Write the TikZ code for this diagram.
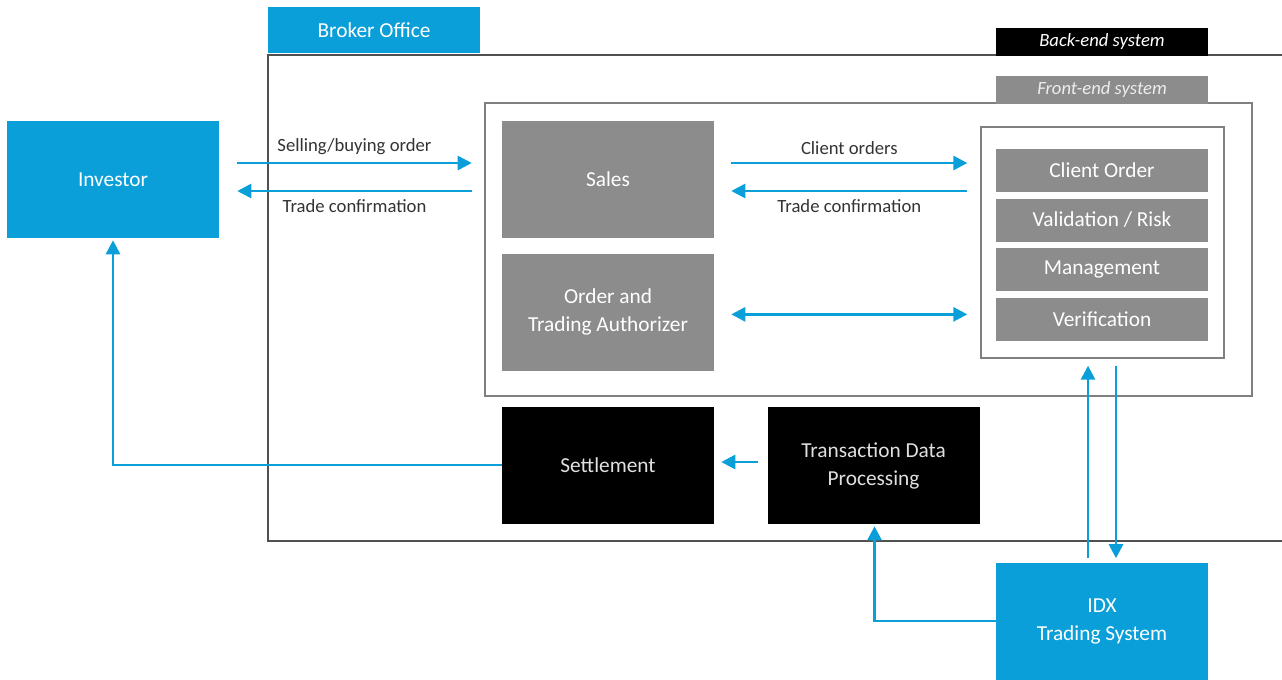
\documentclass[tikz,border=0pt]{standalone}
\usepackage{fontspec}
\setmainfont{Carlito}
\usetikzlibrary{arrows.meta,positioning}
\definecolor{idxblue}{HTML}{0A9FD8}
\definecolor{boxgray}{HTML}{8C8C8C}
\definecolor{linegray}{HTML}{505050}
\definecolor{textgray}{HTML}{333333}
\tikzset{
    block/.style={minimum width=159pt, minimum height=87.75pt, inner sep=0pt,
        align=center, font=\fontsize{16}{21}\selectfont},
    blueblock/.style={block, fill=idxblue, text=white},
    grayblock/.style={block, fill=boxgray, text=white},
    blackblock/.style={block, fill=black, text=white!88!black},
    subblock/.style={grayblock, minimum height=32.25pt},
    tag/.style={minimum width=159pt, minimum height=21pt, inner sep=0pt,
        font=\fontsize{14}{15}\selectfont\itshape},
    flow/.style={draw=idxblue, line width=2pt},
    lbl/.style={text=textgray, font=\fontsize{14}{15}\selectfont, inner sep=5.5pt}
}

\begin{document}
\begin{tikzpicture}[x=0.75pt,y=-0.75pt,>={Triangle[length=10.5pt,width=10.5pt]}]
    \useasboundingbox (0,0) rectangle (1282,679);

    % broker office frame
    \draw[linegray, line width=1.5pt] (1282,55) -- (268,55) -- (268,541) -- (1282,541);
    \node[blueblock, minimum height=34.5pt] (broker) at (374,30) {Broker Office};
    \node[tag, fill=black, text=white] (backend) at (1102,42) {Back-end system};

    % front-end system
    \draw[gray, line width=1pt] (485,103) rectangle (1252,396);
    \node[tag, fill=boxgray, text=white!93!black] (frontend) at (1102,89.5) {Front-end system};

    \node[blueblock] (investor) at (113,179.5) {Investor};
    \node[grayblock] (sales) at (608,179.5) {Sales};
    \node[grayblock] (auth) [below=11.5pt of sales] {Order and\\Trading Authorizer};

    \node[draw=gray, line width=1pt, minimum width=182.25pt, minimum height=173.25pt,
        inner sep=0pt] (engine) at (1102.5,242.5) {};
    \node[subblock] (order) at (1102,170.5) {Client Order};
    \node[subblock] (risk) [below=4.5pt of order] {Validation / Risk};
    \node[subblock] (manage) [below=4.5pt of risk] {Management};
    \node[subblock] (verify) [below=4.5pt of manage] {Verification};

    \node[blackblock] (settle) at (608,465.5) {Settlement};
    \node[blackblock] (tdp) [right=39.75pt of settle] {Transaction Data\\Processing};
    \node[blueblock] (idx) at (1102,621) {IDX\\Trading System};

    % connectors
    \draw[flow,->] ([shift={(18,-16.5)}]investor.east) -- node[lbl, above] {Selling/buying order}
        ([shift={(-30,-16.5)}]sales.west);
    \draw[flow,->] ([shift={(-30,11.5)}]sales.west) -- node[lbl, below] {Trade confirmation}
        ([shift={(18,11.5)}]investor.east);
    \draw[flow,->] ([shift={(17,-16.5)}]sales.east) -- node[lbl, above] {Client orders}
        ([shift={(-13,-79.5)}]engine.west);
    \draw[flow,->] ([shift={(-13,-51.5)}]engine.west) -- node[lbl, below] {Trade confirmation}
        ([shift={(17,11.5)}]sales.east);
    \coordinate (authmid) at ([yshift=-1.5pt]auth.east);
    \draw[flow,<->, shorten <=12.75pt, shorten >=9.75pt] (authmid) -- (authmid -| engine.west);
    \draw[flow,->] ([shift={(-14,-4)}]idx.north) -- ([shift={(-14.5,7)}]engine.south);
    \draw[flow,->] ([shift={(13.5,7)}]engine.south) -- ([shift={(14,-4)}]idx.north);
    \draw[flow,->] ([shift={(-9,-3.5)}]tdp.west) -- ([shift={(7,-3.5)}]settle.east);
    \draw[flow,->] ([yshift=0.4pt]settle.west) -| ([yshift=-1.5pt]investor.south);
    \draw[flow,->] (idx.west) -| ([shift={(1,2)}]tdp.south);
\end{tikzpicture}
\end{document}
